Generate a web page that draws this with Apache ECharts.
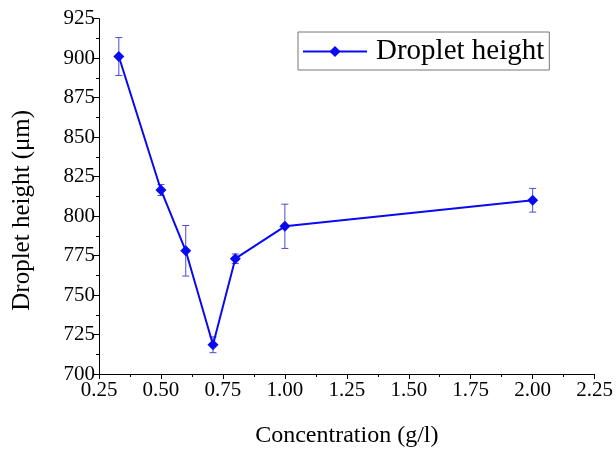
<!DOCTYPE html>
<html><head><meta charset="utf-8">
<script src="https://cdn.jsdelivr.net/npm/echarts@6/dist/echarts.min.js"></script>
<style>html,body{margin:0;padding:0;background:#fff}#c{width:616px;height:453px}</style>
</head><body><div id="c"></div>
<script>
var concentration = [0.33, 0.5, 0.6, 0.71, 0.8, 1.0, 2.0];
var dropletHeight = [901, 816.5, 778, 718.5, 773, 793.5, 810];
var errorBar = [12, 3.5, 16, 5, 3, 14, 7.5];
var seriesName = 'Droplet height';

var lineData = concentration.map(function (c, i) { return [c, dropletHeight[i]]; });
var errData = concentration.map(function (c, i) { return [c, dropletHeight[i] - errorBar[i], dropletHeight[i] + errorBar[i]]; });

var font = 'Liberation Serif';
var chart = echarts.init(document.getElementById('c'), null, {renderer: 'canvas'});
chart.setOption({
  backgroundColor: '#fff',
  animation: false,
  grid: {left: 99, right: 17, top: 18.6, bottom: 78},
  legend: {
    data: [seriesName],
    left: 298, top: 32,
    borderColor: '#777', borderWidth: 1,
    padding: [5, 5, 4, 4],
    itemWidth: 64, itemHeight: 14,
    itemGap: 4,
    textStyle: {fontFamily: font, fontSize: 29, color: '#000', padding: [0, 0, 0, 4]}
  },
  xAxis: {
    type: 'value', min: 0.25, max: 2.25, interval: 0.25,
    name: 'Concentration (g/l)', nameLocation: 'middle', nameGap: 50,
    nameTextStyle: {fontFamily: font, fontSize: 24, color: '#000'},
    axisLine: {onZero: false, lineStyle: {color: '#000', width: 1}},
    axisTick: {inside: false, length: 5, lineStyle: {color: '#000'}},
    minorTick: {show: true, splitNumber: 2, length: 3, lineStyle: {color: '#000'}},
    splitLine: {show: false},
    axisLabel: {fontFamily: font, fontSize: 21, color: '#000', margin: 6,
      formatter: function (v) { return v.toFixed(2); }}
  },
  yAxis: {
    type: 'value', min: 700, max: 925, interval: 25,
    name: 'Droplet height (\u03bcm)', nameLocation: 'middle', nameGap: 64,
    nameTextStyle: {fontFamily: font, fontSize: 25, color: '#000', padding: [0, 28, 0, 0]},
    axisLine: {show: true, lineStyle: {color: '#000', width: 1}},
    axisTick: {inside: false, length: 5, lineStyle: {color: '#000'}},
    minorTick: {show: true, splitNumber: 2, length: 3, lineStyle: {color: '#000'}},
    splitLine: {show: false},
    axisLabel: {fontFamily: font, fontSize: 21, color: '#000', margin: 4}
  },
  series: [
    {
      type: 'custom', name: 'err', data: errData, z: 1,
      renderItem: function (params, api) {
        var x = api.value(0);
        var lo = api.coord([x, api.value(1)]);
        var hi = api.coord([x, api.value(2)]);
        var w = 3.5;
        var st = {stroke: '#4b4bd2', lineWidth: 1};
        return {type: 'group', children: [
          {type: 'line', shape: {x1: lo[0], y1: lo[1], x2: hi[0], y2: hi[1]}, style: st},
          {type: 'line', shape: {x1: lo[0] - w, y1: lo[1], x2: lo[0] + w, y2: lo[1]}, style: st},
          {type: 'line', shape: {x1: hi[0] - w, y1: hi[1], x2: hi[0] + w, y2: hi[1]}, style: st}
        ]};
      }
    },
    {
      type: 'line', name: seriesName, data: lineData, z: 3,
      symbol: 'diamond', symbolSize: 11,
      lineStyle: {color: '#0a0af0', width: 2},
      itemStyle: {color: '#0a0af0'}
    }
  ]
});
</script></body></html>
